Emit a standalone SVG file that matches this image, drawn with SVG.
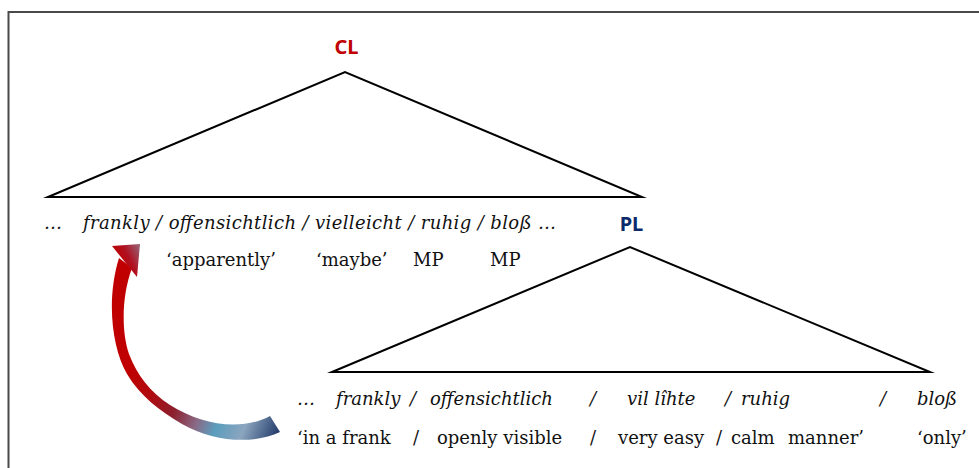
<svg xmlns="http://www.w3.org/2000/svg" width="979" height="468" viewBox="0 0 979 468">
  <style>
    .tri { fill: none; stroke: #000; stroke-width: 2; stroke-linejoin: miter; stroke-miterlimit: 10; }
    .lbl { font-family: "Noto Sans", "Open Sans", sans-serif; font-weight: bold; font-size: 20px; text-anchor: middle; }
    .it { font-family: "DejaVu Serif", "Liberation Serif", serif; font-style: italic; font-size: 18px; fill: #111; }
    .gl { font-family: "DejaVu Serif", "Liberation Serif", serif; font-size: 18px; fill: #111; }
  </style>
  <defs>
    <linearGradient id="shaftGrad" gradientUnits="userSpaceOnUse" x1="128" y1="370" x2="282" y2="432">
      <stop offset="0" stop-color="#c00000"/>
      <stop offset="0.18" stop-color="#b00a10"/>
      <stop offset="0.35" stop-color="#8c1f2c"/>
      <stop offset="0.5" stop-color="#8a6a86"/>
      <stop offset="0.62" stop-color="#5a9dbd"/>
      <stop offset="0.78" stop-color="#8ba5bf"/>
      <stop offset="1" stop-color="#1c3464"/>
    </linearGradient>
    <linearGradient id="headGrad" gradientUnits="userSpaceOnUse" x1="116" y1="262" x2="140" y2="250">
      <stop offset="0" stop-color="#c00000"/>
      <stop offset="0.5" stop-color="#b01020"/>
      <stop offset="1" stop-color="#9a5a6c"/>
    </linearGradient>
  </defs>

  <!-- frame -->
  <rect x="8.5" y="12" width="990" height="480" fill="#fff" stroke="#4a4a4a" stroke-width="2"/>

  <!-- CL tree -->
  <g id="cl">
    <polygon class="tri" points="48,197 345,72 642,197"/>
    <text class="lbl" x="346.5" y="54" fill="#c00000">CL</text>
  </g>

  <!-- PL tree -->
  <g id="pl">
    <polygon class="tri" points="332,372 630,247 930,372"/>
    <text class="lbl" x="631.5" y="230.5" fill="#0b2a6b">PL</text>
  </g>

  <!-- items and glosses under CL -->
  <g id="cl-items">
    <text class="it" x="44" y="229">…</text>
    <text class="it" x="83" y="229" textLength="473" lengthAdjust="spacing">frankly / offensichtlich / vielleicht / ruhig / bloß …</text>
    <text class="gl" x="166" y="266">‘apparently’</text>
    <text class="gl" x="316" y="266">‘maybe’</text>
    <text class="gl" x="413" y="266">MP</text>
    <text class="gl" x="490" y="266">MP</text>
  </g>

  <!-- items and glosses under PL -->
  <g id="pl-items">
    <text class="it" x="297" y="405">…</text>
    <text class="it" x="336" y="405">frankly</text>
    <text class="it" x="410" y="405">/</text>
    <text class="it" x="430" y="405">offensichtlich</text>
    <text class="it" x="590" y="405">/</text>
    <text class="it" x="627" y="405">vil lîhte</text>
    <text class="it" x="725" y="405">/</text>
    <text class="it" x="741" y="405">ruhig</text>
    <text class="it" x="880" y="405">/</text>
    <text class="it" x="917" y="405">bloß</text>

    <text class="gl" x="297" y="444">‘in a frank</text>
    <text class="gl" x="413" y="444">/</text>
    <text class="gl" x="437" y="444">openly visible</text>
    <text class="gl" x="590" y="444">/</text>
    <text class="gl" x="618" y="444">very easy</text>
    <text class="gl" x="716" y="444">/</text>
    <text class="gl" x="731" y="444">calm</text>
    <text class="gl" x="788" y="444">manner’</text>
    <text class="gl" x="917" y="444">‘only’</text>
  </g>

  <!-- curved arrow from the PL position up to the CL position; the band narrows where it turns -->
  <g id="connectors">
    <path fill="url(#shaftGrad)" d="M280,432 C255,444 215,443 182,424 C160,411 140,396 127,374 C112,348 106,300 119,258 L132,268 C122,295 121,330 129,354 C137,375 150,392 170,405 C200,424 240,432 270,416 Z"/>
    <path fill="url(#headGrad)" d="M112,246 L140,244 L137,277 Z"/>
  </g>
</svg>
